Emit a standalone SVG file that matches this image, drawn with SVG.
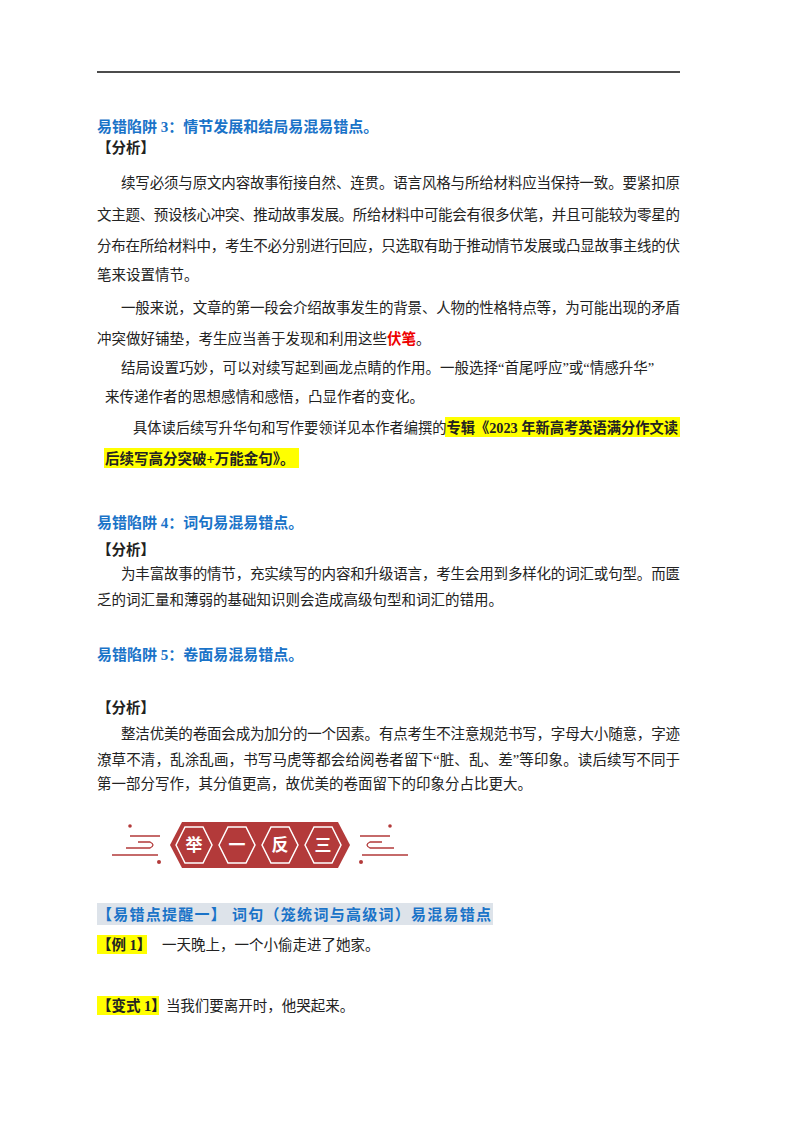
<svg xmlns="http://www.w3.org/2000/svg" width="800" height="1132" viewBox="0 0 800 1132">
<style>
text{font-family:"Liberation Serif","Noto Sans CJK SC",serif;font-size:14.5px;fill:#222}
.t{fill:#1a73c8;font-weight:bold;font-size:15px}
.b{font-weight:bold}
.hx{fill:#b33a3a;stroke:#fff;stroke-width:1.5}
.hxo{fill:#b33a3a}
.hw{fill:#fff;font-weight:bold;font-size:17px;font-family:"Noto Sans CJK SC",sans-serif}
.d{fill:none;stroke:#b33a3a;stroke-width:1.3}
</style>
<rect width="800" height="1132" fill="#fff"/>
<line x1="97" y1="72" x2="680" y2="72" stroke="#111" stroke-width="1.5"/>
<g id="s3">
<text class="t" x="97" y="132">易错陷阱 3：情节发展和结局易混易错点。</text>
<text class="b" x="97" y="153">【分析】</text>
<text x="121" y="188" textLength="559">续写必须与原文内容故事衔接自然、连贯。语言风格与所给材料应当保持一致。要紧扣原</text>
<text x="97" y="220" textLength="583">文主题、预设核心冲突、推动故事发展。所给材料中可能会有很多伏笔，并且可能较为零星的</text>
<text x="97" y="251" textLength="583">分布在所给材料中，考生不必分别进行回应，只选取有助于推动情节发展或凸显故事主线的伏</text>
<text x="97" y="280">笔来设置情节。</text>
<text x="121" y="313" textLength="559">一般来说，文章的第一段会介绍故事发生的背景、人物的性格特点等，为可能出现的矛盾</text>
<text x="97" y="344">冲突做好铺垫，考生应当善于发现和利用这些<tspan fill="#e00" font-weight="bold">伏笔</tspan>。</text>
<text x="121" y="373">结局设置巧妙，可以对续写起到画龙点睛的作用。一般选择“首尾呼应”或“情感升华”</text>
<text x="105" y="402">来传递作者的思想感情和感悟，凸显作者的变化。</text>
<rect x="445" y="417" width="235" height="20" fill="#ff0"/>
<rect x="104" y="448" width="195" height="20" fill="#ff0"/>
<text x="133" y="433" textLength="545" lengthAdjust="spacingAndGlyphs">具体读后续写升华句和写作要领详见本作者编撰的<tspan class="b">专辑《2023 年新高考英语满分作文读</tspan></text>
<text class="b" x="105" y="464">后续写高分突破+万能金句》。</text>
</g>
<g id="s4">
<text class="t" x="97" y="528">易错陷阱 4：词句易混易错点。</text>
<text class="b" x="97" y="555">【分析】</text>
<text x="121" y="579" textLength="559">为丰富故事的情节，充实续写的内容和升级语言，考生会用到多样化的词汇或句型。而匮</text>
<text x="97" y="605">乏的词汇量和薄弱的基础知识则会造成高级句型和词汇的错用。</text>
</g>
<g id="s5">
<text class="t" x="97" y="660">易错陷阱 5：卷面易混易错点。</text>
<text class="b" x="97" y="713">【分析】</text>
<text x="121" y="739" textLength="559">整洁优美的卷面会成为加分的一个因素。有点考生不注意规范书写，字母大小随意，字迹</text>
<text x="97" y="765" textLength="583">潦草不清，乱涂乱画，书写马虎等都会给阅卷者留下“脏、乱、差”等印象。读后续写不同于</text>
<text x="97" y="789">第一部分写作，其分值更高，故优美的卷面留下的印象分占比更大。</text>
</g>
<g id="banner">
<path class="hxo" d="M170,845 L182,822 L338,822 L350,845 L338,868 L182,868 Z"/>
<path class="hx" d="M176,845 L185,827 L203,827 L212,845 L203,863 L185,863 Z"/>
<path class="hx" d="M219,845 L228,827 L246,827 L255,845 L246,863 L228,863 Z"/>
<path class="hx" d="M262,845 L271,827 L289,827 L298,845 L289,863 L271,863 Z"/>
<path class="hx" d="M305,845 L314,827 L332,827 L341,845 L332,863 L314,863 Z"/>
<text class="hw" x="194" y="851" text-anchor="middle">举</text>
<text class="hw" x="237" y="851" text-anchor="middle">一</text>
<text class="hw" x="280" y="851" text-anchor="middle">反</text>
<text class="hw" x="323" y="851" text-anchor="middle">三</text>
<path class="d" d="M112,855 H158 M126,848 H150 Q156,845 150,842 H138 M130,836 H160"/>
<circle cx="130" cy="826" r="1.8" fill="#b33a3a"/><circle cx="159" cy="862" r="2" fill="#b33a3a"/>
<path class="d" d="M408,855 H362 M394,848 H370 Q364,845 370,842 H382 M390,836 H360"/>
<circle cx="390" cy="826" r="1.8" fill="#b33a3a"/><circle cx="361" cy="862" r="2" fill="#b33a3a"/>
</g>
<g id="ex">
<rect x="97" y="903" width="396" height="22" fill="#dde3ea"/>
<text class="t" x="97" y="920" textLength="394">【易错点提醒一】 词句（笼统词与高级词）易混易错点</text>
<rect x="97" y="935" width="50" height="19" fill="#ff0"/>
<text class="b" x="97" y="950">【例 1】</text>
<text x="162" y="950">一天晚上，一个小偷走进了她家。</text>
<rect x="97" y="996" width="62" height="19" fill="#ff0"/>
<text class="b" x="97" y="1011">【变式 1】<tspan font-weight="normal">当我们要离开时，他哭起来。</tspan></text>
</g>
</svg>
